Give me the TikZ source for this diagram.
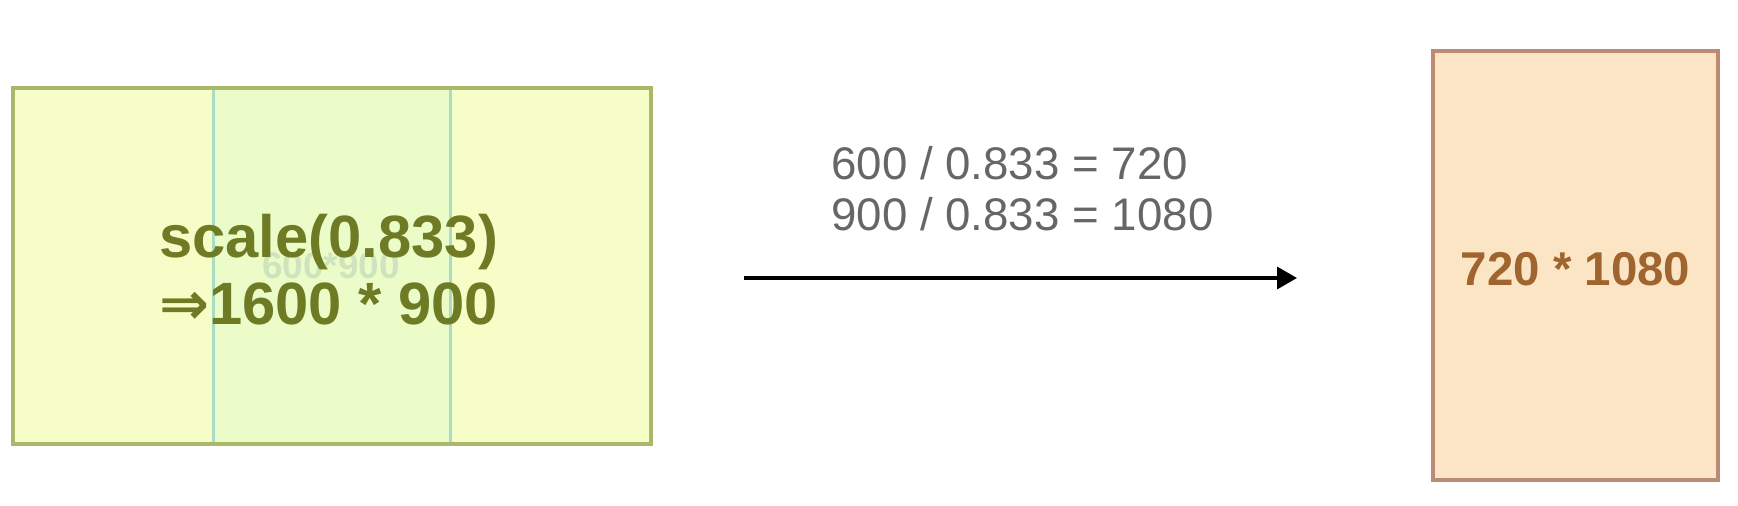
\documentclass[tikz,border=0pt]{standalone}
\usepackage{fontspec}
\setmainfont{Liberation Sans}
\newfontfamily\arrowfont{DejaVu Sans}
\usetikzlibrary{arrows.meta}
\definecolor{leftfill}{HTML}{F6FDC6}
\definecolor{leftline}{HTML}{A9B86A}
\definecolor{stripfill}{HTML}{EBFCC8}
\definecolor{stripline}{HTML}{A8DCC4}
\definecolor{scaletxt}{HTML}{6E7A24}
\definecolor{fadedtxt}{HTML}{CDE4BE}
\definecolor{calcgray}{HTML}{666666}
\definecolor{rightfill}{HTML}{FBE5C5}
\definecolor{rightline}{HTML}{BD8A76}
\definecolor{righttxt}{HTML}{A0652F}
\tikzset{
  screenbox/.style={draw=leftline,fill=leftfill,line width=2.3pt,inner sep=0pt},
  stripbox/.style={fill=stripfill,inner sep=0pt},
  stripedge/.style={draw=stripline,line width=1.7pt},
  outbox/.style={draw=rightline,fill=rightfill,line width=2.1pt,inner sep=0pt}
}
\begin{document}
\begin{tikzpicture}[line cap=butt,line join=miter,>={Triangle[length=0.4cm,width=0.44cm]},x=0.02cm,y=-0.02cm]
\useasboundingbox (0,0) rectangle (1738,506);
% left screen, scaled
\node[screenbox,minimum width=12.75cm,minimum height=7.14cm] (screen) at (332,266) {};
\node[stripbox,minimum width=4.72cm,minimum height=7.04cm] (strip) at (332,266) {};
\draw[stripedge] (strip.north west) -- (strip.south west);
\draw[stripedge] (strip.north east) -- (strip.south east);
\node[text=fadedtxt,font=\fontsize{21}{24}\selectfont\bfseries] (inner) at (331,266) {600*900};
\node[text=scaletxt,font=\fontsize{34}{38}\selectfont\bfseries,align=left,anchor=west] (scale) at (153,270)
  {scale(0.833)\\{\arrowfont ⇒}1600 * 900};
% calculation
\node[text=calcgray,font=\fontsize{26}{29}\selectfont,align=left,anchor=west] (calc) at (825,189)
  {600 / 0.833 = 720\\900 / 0.833 = 1080};
\coordinate (src) at (744,278);
\coordinate (dst) at (1297,278);
\draw[->,line width=2pt] (src) -- (dst);
% right screen
\node[outbox,minimum width=5.7cm,minimum height=8.58cm] (result) at (1575.5,265.5) {};
\node[text=righttxt,font=\fontsize{27}{31}\selectfont\bfseries] (size) at ([yshift=-0.07cm]result.center) {720 * 1080};
\end{tikzpicture}
\end{document}
